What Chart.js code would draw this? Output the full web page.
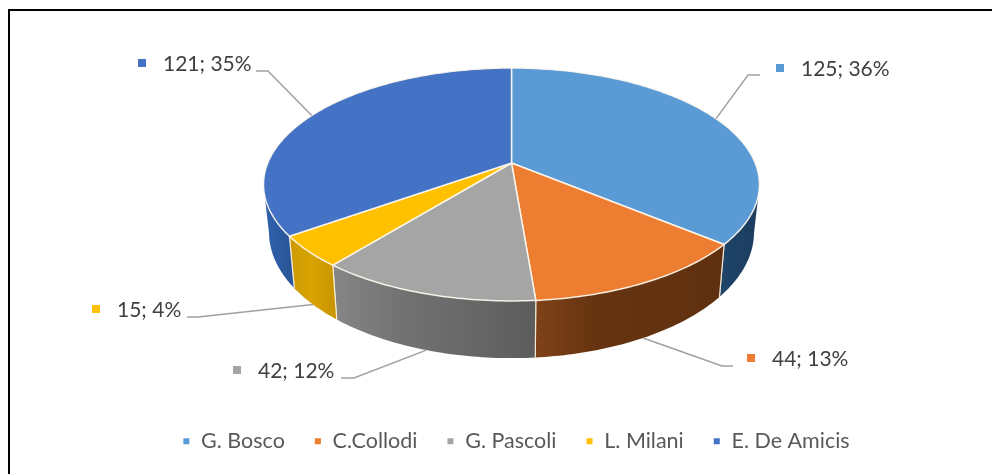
<!DOCTYPE html>
<html>
<head>
<meta charset="utf-8">
<title>Pie</title>
<script src="https://cdn.jsdelivr.net/npm/chart.js@4/dist/chart.umd.js"></script>
<style>
    html, body { margin: 0; background: #fff; overflow: hidden; }
    #wrap { position: absolute; left: 0; top: 0; width: 992px; height: 474px; overflow: hidden; }
    #frame { position: absolute; left: 8px; top: 9px; width: 984px; height: 465px; border-top: 2px solid #000; border-left: 2px solid #000; box-sizing: border-box; }
</style>
</head>
<body>
<div id="wrap">
    <canvas id="chart" width="992" height="474"></canvas>
    <div id="frame"></div>
</div>
<script>
const names = ['G. Bosco', 'C.Collodi', 'G. Pascoli', 'L. Milani', 'E. De Amicis'];
const values = [125, 44, 42, 15, 121];
const percents = [36, 13, 12, 4, 35];
const colors = ['#5B9BD5', '#ED7D31', '#A5A5A5', '#FFC000', '#4472C4'];

// side wall shading, left to right
const wallColors = [
    ['#1E4468', '#1C3C5E'],
    ['#7F4218', '#653310', '#633210', '#5F3010'],
    ['#868686', '#727272', '#686868', '#5C5C5C'],
    ['#CC9A06', '#D9A400', '#C99600'],
    ['#2F62AE', '#2A5698']
];

// where the text of each data label goes: [text x, text y, elbow x, elbow y, line end x]
const labelLayout = [
    [801, 69, 748, 75, 760],
    [772, 359, 722, 366, 733],
    [258, 371, 354, 378, 341],
    [117, 310, 198, 317, 187],
    [163, 64, 268, 71, 256]
];
const labelOnBottom = [false, true, true, true, false];

// projection of the disc, the pie is seen with perspective so the centre is not in the middle
const cx = 511.5;
const topY = 163;
const radX = 243.7;
const radY = 112.5;
const persp = 0.1845;
const bottomY = 209;
const bottomRadY = 121.6;
const bottomScale = 0.978;

function topPoint(theta) {
    const u = Math.sin(theta), v = Math.cos(theta), w = 1 + persp * v;
    return [cx + radX * u / w, topY - radY * v / w];
}

function bottomPoint(theta) {
    const u = Math.sin(theta), v = Math.cos(theta), w = 1 + persp * v;
    return [cx + bottomScale * radX * u / w, bottomY - bottomRadY * v / w];
}

function rim(ctx, pointFn, from, to) {
    const steps = Math.max(2, Math.ceil(Math.abs(to - from) * 60));
    for (let i = 0; i <= steps; i++) {
        const p = pointFn(from + (to - from) * i / steps);
        ctx.lineTo(p[0], p[1]);
    }
}

function drawWall(ctx, index, t1, t2) {
    const deg = Math.PI / 180;
    const a1 = Math.max(t1, 106 * deg), a2 = Math.min(t2, 254 * deg);
    const b1 = Math.max(t1, 101 * deg), b2 = Math.min(t2, 259 * deg);
    if (a2 <= a1) return;
    const left = topPoint(a2)[0], right = topPoint(a1)[0];
    const grad = ctx.createLinearGradient(left, 0, right, 0);
    wallColors[index].forEach((c, i, all) => grad.addColorStop(i / (all.length - 1), c));
    ctx.beginPath();
    const start = topPoint(a1);
    ctx.moveTo(start[0], start[1]);
    rim(ctx, topPoint, a1, a2);
    rim(ctx, bottomPoint, b2, b1);
    ctx.closePath();
    ctx.fillStyle = grad;
    ctx.fill();
    // light seam between the walls
    ctx.strokeStyle = 'rgba(255,245,225,0.85)';
    ctx.lineWidth = 1.2;
    ctx.beginPath();
    if (t1 >= 106 * deg && t1 <= 254 * deg) {
        const p = topPoint(t1), q = bottomPoint(t1);
        ctx.moveTo(p[0], p[1]);
        ctx.lineTo(q[0], q[1]);
    }
    if (t2 >= 106 * deg && t2 <= 254 * deg) {
        const p = topPoint(t2), q = bottomPoint(t2);
        ctx.moveTo(p[0], p[1]);
        ctx.lineTo(q[0], q[1]);
    }
    ctx.stroke();
}

function drawTop(ctx, index, t1, t2) {
    ctx.beginPath();
    ctx.moveTo(cx, topY);
    rim(ctx, topPoint, t1, t2);
    ctx.closePath();
    ctx.fillStyle = colors[index];
    ctx.fill();
    ctx.strokeStyle = 'rgba(255,250,240,0.9)';
    ctx.lineWidth = 1.5;
    ctx.lineJoin = 'round';
    ctx.stroke();
}

const pie3d = {
    id: 'pie3d',
    beforeDatasetDraw(chart) {
        const ctx = chart.ctx;
        const arcs = chart.getDatasetMeta(0).data;
        const angles = arcs.map(a => [a.startAngle + Math.PI / 2, a.endAngle + Math.PI / 2]);
        ctx.save();
        angles.forEach((t, i) => drawWall(ctx, i, t[0], t[1]));
        angles.forEach((t, i) => drawTop(ctx, i, t[0], t[1]));
        ctx.restore();
        return false;
    },
    afterDatasetsDraw(chart) {
        const ctx = chart.ctx;
        const arcs = chart.getDatasetMeta(0).data;
        ctx.save();
        arcs.forEach((a, i) => {
            const mid = (a.startAngle + a.endAngle) / 2 + Math.PI / 2;
            const from = labelOnBottom[i] ? bottomPoint(mid) : topPoint(mid);
            const l = labelLayout[i];
            ctx.strokeStyle = '#A0A0A0';
            ctx.lineWidth = 1.5;
            ctx.beginPath();
            ctx.moveTo(from[0], from[1]);
            ctx.lineTo(l[2], l[3]);
            ctx.lineTo(l[4], l[3]);
            ctx.stroke();

            ctx.font = '21px Lato';
            ctx.fillStyle = '#404040';
            ctx.textBaseline = 'middle';
            ctx.textAlign = 'left';
            ctx.fillText(values[i] + '; ' + percents[i] + '%', l[0], l[1]);
            ctx.fillStyle = colors[i];
            ctx.fillRect(l[0] - 25, l[1] - 5, 8, 8);
        });
        ctx.restore();
    }
};

new Chart(document.getElementById('chart'), {
    type: 'pie',
    data: {
        labels: names,
        datasets: [{ data: values, backgroundColor: colors }]
    },
    options: {
        responsive: false,
        animation: false,
        layout: { padding: { bottom: 12, left: 40 } },
        plugins: {
            tooltip: { enabled: false },
            legend: {
                position: 'bottom',
                onClick: null,
                labels: {
                    boxWidth: 8,
                    boxHeight: 8,
                    padding: 29,
                    color: '#595959',
                    font: { family: 'Lato', size: 21.5 }
                }
            }
        }
    },
    plugins: [pie3d]
});
</script>
</body>
</html>
